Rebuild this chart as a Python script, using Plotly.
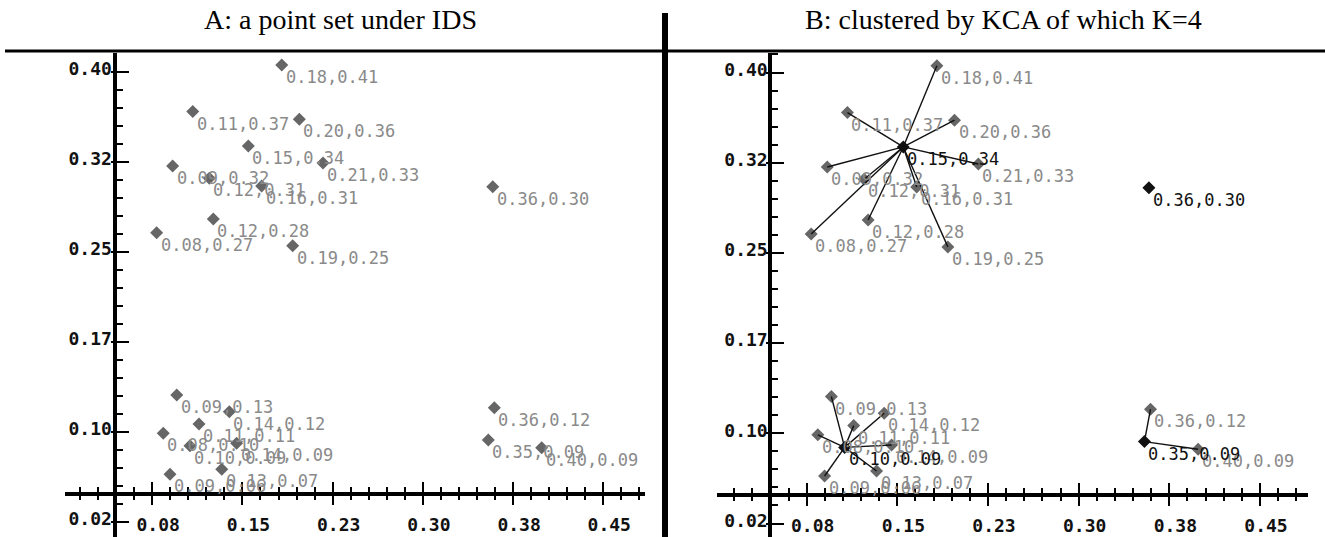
import plotly.graph_objects as go

# ---------------- data ----------------
pt_x = [0.1827, 0.1087, 0.1973, 0.1549, 0.2170, 0.0920, 0.1225, 0.1660, 0.1258, 0.0787, 0.1918,
        0.3581,
        0.0954, 0.1391, 0.1139, 0.0842, 0.1064, 0.1452, 0.0898, 0.1328,
        0.3594, 0.3544, 0.3988]
pt_y = [0.4056, 0.3667, 0.3603, 0.3381, 0.3239, 0.3214, 0.3112, 0.3048, 0.2773, 0.2658, 0.2550,
        0.3042,
        0.1306, 0.1167, 0.1064, 0.0987, 0.0883, 0.0903, 0.0645, 0.0687,
        0.1200, 0.0931, 0.0867]
pt_labels = ["0.18,0.41", "0.11,0.37", "0.20,0.36", "0.15,0.34", "0.21,0.33", "0.09,0.32",
             "0.12,0.31", "0.16,0.31", "0.12,0.28", "0.08,0.27", "0.19,0.25",
             "0.36,0.30",
             "0.09,0.13", "0.14,0.12", "0.11,0.11", "0.08,0.10", "0.10,0.09", "0.14,0.09",
             "0.09,0.06", "0.13,0.07",
             "0.36,0.12", "0.35,0.09", "0.40,0.09"]
cluster_of = [0] * 11 + [1] + [2] * 8 + [3] * 3
centroids = [3, 11, 16, 21]

x_tickvals = [0.075, 0.15, 0.225, 0.30, 0.375, 0.45]
x_ticktext = ["0.08", "0.15", "0.23", "0.30", "0.38", "0.45"]
y_tickvals = [0.025, 0.10, 0.175, 0.25, 0.325, 0.40]
y_ticktext = ["0.02", "0.10", "0.17", "0.25", "0.32", "0.40"]
minor_step = 0.015

titles = ["A: a point set under IDS", "B: clustered by KCA of which K=4"]

# ---------------- layout geometry (pixels) ----------------
W, H = 1325, 537
panels = [
    dict(xd=(65, 645), xr=(0.00251, 0.48468), yd=53.3, yr=(0.01225, 0.4153),
         yaxis_px=114.5, xaxis_px=493.5, title_x=340),
    dict(xd=(716.7, 1308.3), xr=(0.00055, 0.48996), yd=52.7, yr=(0.01378, 0.41646),
         yaxis_px=770.3, xaxis_px=494.5, title_x=1003),
]

GRAY_MARK = "#666666"
GRAY_TEXT = "#8a8a8a"
TICKFONT = dict(family="DejaVu Sans Mono", size=18, color="#111111", weight="bold")
LBLFONT = "DejaVu Sans Mono"

fig = go.Figure()

layout = dict(width=W, height=H, autosize=False,
              margin=dict(l=0, r=0, t=0, b=0),
              paper_bgcolor="white", plot_bgcolor="white", showlegend=False)

annotations = []

for p_i, p in enumerate(panels):
    n = p_i + 1
    xa = "x" if n == 1 else "x2"
    ya = "y" if n == 1 else "y2"
    xo = "x%d" % (n + 2)
    yo = "y%d" % (n + 2)
    xdom = [p["xd"][0] / W, p["xd"][1] / W]
    ydom = [0, 1 - p["yd"] / H]
    ypos = 1 - p["xaxis_px"] / H
    xpos = p["yaxis_px"] / W
    common = dict(showgrid=False, zeroline=False, fixedrange=True)
    # main axes: line, labels and the inner half of the crossing ticks
    layout["xaxis" + ("" if n == 1 else str(n))] = dict(
        domain=xdom, range=list(p["xr"]), anchor="free", position=ypos,
        showline=True, linewidth=4, linecolor="black",
        tickmode="array", tickvals=x_tickvals, ticktext=x_ticktext,
        ticks="inside", ticklen=10, tickwidth=2, tickcolor="black",
        tickfont=TICKFONT, ticklabelshift=6, ticklabelstandoff=14,
        minor=dict(tickmode="linear", tick0=x_tickvals[0], dtick=minor_step,
                   ticks="inside", ticklen=5, tickwidth=2, tickcolor="black"),
        **common)
    layout["yaxis" + ("" if n == 1 else str(n))] = dict(
        domain=ydom, range=list(p["yr"]), anchor="free", position=xpos,
        showline=True, linewidth=4, linecolor="black",
        tickmode="array", tickvals=y_tickvals, ticktext=y_ticktext,
        ticks="inside", ticklen=12, tickwidth=2, tickcolor="black",
        tickfont=TICKFONT, ticklabelshift=-3, ticklabelstandoff=-3,
        minor=dict(tickmode="linear", tick0=y_tickvals[0], dtick=minor_step,
                   ticks="inside", ticklen=6, tickwidth=2, tickcolor="black"),
        **common)
    # overlay axes for the outer half of the crossing ticks
    layout["xaxis%d" % (n + 2)] = dict(
        domain=xdom, range=list(p["xr"]), anchor="free", position=ypos,
        overlaying=xa, showline=False, showticklabels=False,
        tickmode="array", tickvals=x_tickvals,
        ticks="outside", ticklen=10, tickwidth=2, tickcolor="black",
        minor=dict(tickmode="linear", tick0=x_tickvals[0], dtick=minor_step,
                   ticks="outside", ticklen=5, tickwidth=2, tickcolor="black"),
        **common)
    layout["yaxis%d" % (n + 2)] = dict(
        domain=ydom, range=list(p["yr"]), anchor="free", position=xpos,
        overlaying=ya, showline=False, showticklabels=False,
        tickmode="array", tickvals=y_tickvals,
        ticks="outside", ticklen=4, tickwidth=2, tickcolor="black",
        minor=dict(tickmode="linear", tick0=y_tickvals[0], dtick=minor_step,
                   ticks="outside", ticklen=2, tickwidth=2, tickcolor="black"),
        **common)
    fig.add_trace(go.Scatter(x=[], y=[], xaxis=xo, yaxis=ya, hoverinfo="skip"))
    fig.add_trace(go.Scatter(x=[], y=[], xaxis=xa, yaxis=yo, hoverinfo="skip"))


def add_points(idx, xaxis, yaxis, mcolor, tcolor):
    xs = [pt_x[i] for i in idx]
    ys = [pt_y[i] for i in idx]
    fig.add_trace(go.Scatter(
        x=xs, y=ys, mode="markers",
        marker=dict(symbol="diamond", size=10, color=mcolor),
        xaxis=xaxis, yaxis=yaxis, hoverinfo="skip"))
    for i in idx:
        annotations.append(dict(
            text=pt_labels[i], x=pt_x[i], y=pt_y[i], xref=xaxis, yref=yaxis,
            xanchor="left", yanchor="middle", xshift=2, yshift=-12, showarrow=False,
            font=dict(family=LBLFONT, size=17, color=tcolor)))


# ---------------- panel A ----------------
add_points(list(range(len(pt_x))), "x", "y", GRAY_MARK, GRAY_TEXT)

# ---------------- panel B ----------------
members = [i for i in range(len(pt_x)) if i not in centroids]
add_points(members, "x2", "y2", GRAY_MARK, GRAY_TEXT)
add_points(centroids, "x2", "y2", "#111111", "#111111")
for k, c in enumerate(centroids):
    lx, ly = [], []
    for i in range(len(pt_x)):
        if cluster_of[i] == k and i != c:
            lx += [pt_x[c], pt_x[i], None]
            ly += [pt_y[c], pt_y[i], None]
    if lx:
        fig.add_trace(go.Scatter(x=lx, y=ly, mode="lines",
                                 line=dict(color="#111111", width=1.4),
                                 xaxis="x2", yaxis="y2", hoverinfo="skip"))

# ---------------- titles & frame decorations ----------------
for t, p in zip(titles, panels):
    annotations.append(dict(text=t, x=p["title_x"] / W, y=1 - 19 / H, xref="paper", yref="paper",
                            xanchor="center", yanchor="middle", showarrow=False,
                            font=dict(family="Liberation Serif", size=28, color="black")))
layout["annotations"] = annotations
layout["shapes"] = [
    dict(type="line", xref="paper", yref="paper", x0=5 / W, x1=1, y0=1 - 51 / H, y1=1 - 51 / H,
         line=dict(color="black", width=3)),
    dict(type="rect", xref="paper", yref="paper", x0=662 / W, x1=668 / W, y0=0, y1=1 - 13 / H,
         fillcolor="black", line=dict(width=0)),
]

fig.update_layout(**layout)
fig.write_html("out.html", config={"displayModeBar": False},
               post_script="document.body.style.margin='0px';document.body.style.overflow='hidden';")
